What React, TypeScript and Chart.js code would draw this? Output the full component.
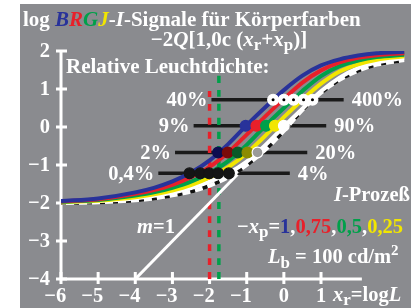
import React, { useEffect, useRef } from "react";
import { Chart, registerables } from "chart.js";
Chart.register(...registerables);

// ---- data ----
const xGrid = [-6, -5, -4, -3.5, -3, -2.5, -2, -1.5, -1, -0.5, 0, 0.5, 1, 1.5, 2, 2.5, 3.25];
const blueY = [-1.95, -1.88, -1.72, -1.6, -1.43, -1.2, -0.88, -0.45, 0.05, 0.52, 0.97, 1.35, 1.62, 1.78, 1.88, 1.94, 1.98];
const redY = [-1.96, -1.9, -1.76, -1.66, -1.52, -1.32, -1.05, -0.67, -0.2, 0.28, 0.74, 1.17, 1.49, 1.7, 1.82, 1.89, 1.94];
const greenY = [-1.97, -1.92, -1.8, -1.72, -1.6, -1.44, -1.21, -0.9, -0.47, 0.03, 0.5, 0.95, 1.34, 1.6, 1.75, 1.84, 1.9];
const yellowY = [-1.98, -1.94, -1.85, -1.77, -1.67, -1.53, -1.33, -1.06, -0.69, -0.23, 0.26, 0.72, 1.14, 1.46, 1.65, 1.77, 1.86];
const whiteY = [-1.99, -1.95, -1.88, -1.81, -1.73, -1.61, -1.44, -1.22, -0.91, -0.48, 0.01, 0.48, 0.94, 1.3, 1.55, 1.7, 1.82];
const dashedY = [-2.0, -1.98, -1.93, -1.88, -1.8, -1.7, -1.54, -1.32, -1.0, -0.6, -0.1, 0.45, 0.9, 1.24, 1.48, 1.64, 1.76];

const levelY = [-1.22, -0.67, 0.03, 0.72];
const levelStart = [-3.38, -2.93, -2.43, -1.95];
const levelEnd = [0.16, 0.63, 1.14, 1.61];
const leftLabels = ["0,4%", "2%", "9%", "40%"];
const rightLabels = ["4%", "20%", "90%", "400%"];
const circleX4 = [-2.54, -2.25, -2.01, -1.77, -1.48];
const circleX20 = [-1.77, -1.51, -1.24, -0.98, -0.71];
const circleX90 = [-1.03, -0.74, -0.48, -0.24, 0.0];
const circleX400 = [-0.29, 0.0, 0.26, 0.53, 0.77];

const slopeLineX = [-4, -1.25];
const slopeLineY = [-4, -1.25];
const redDashX = -2.0;
const redDashY = [-4, 0.95];
const greenDashX = -1.75;
const greenDashY = [-4, 1.35];

const xTicks = [-6, -5, -4, -3, -2, -1, 0, 1];
const yTicks = [-4, -3, -2, -1, 0, 1, 2];
const xAxisEnd = 2.1;

// ---- colours ----
const BG = "#8a8b8f";
const BLUE = "#28329a";
const RED = "#e8202a";
const GREEN = "#00a04a";
const YELLOW = "#f2e600";
const WHITE = "#ffffff";

const FONT = '"Liberation Serif", "DejaVu Serif", serif';
const FS = 20.5;
const FT = 21;
const SUB = 17;

type Seg = { t: string; c?: string; i?: boolean; dy?: number; s?: number };

function drawRich(ctx: CanvasRenderingContext2D, segs: Seg[], x: number, y: number, size: number, align: "left" | "center" | "right" = "left") {
  const fontOf = (s: Seg) => `${s.i ? "italic " : ""}bold ${s.s ?? size}px ${FONT}`;
  const widths = segs.map((s) => {
    ctx.font = fontOf(s);
    return ctx.measureText(s.t).width;
  });
  const total = widths.reduce((a, b) => a + b, 0);
  let cx = align === "left" ? x : align === "center" ? x - total / 2 : x - total;
  ctx.textAlign = "left";
  ctx.textBaseline = "alphabetic";
  segs.forEach((s, k) => {
    ctx.font = fontOf(s);
    ctx.fillStyle = s.c ?? WHITE;
    ctx.fillText(s.t, cx, y + (s.dy ?? 0));
    cx += widths[k];
  });
}

const minus = (v: number) => (v < 0 ? "\u2212" + Math.abs(v) : String(v));

const decorPlugin = {
  id: "decor",
  beforeDraw(chart: any) {
    const ctx = chart.ctx as CanvasRenderingContext2D;
    ctx.save();
    ctx.fillStyle = BG;
    ctx.fillRect(20, 4, chart.width - 20, chart.height - 4);
    ctx.restore();
  },
  beforeDatasetsDraw(chart: any) {
    const ctx = chart.ctx as CanvasRenderingContext2D;
    const xs = chart.scales.x;
    const ys = chart.scales.y;
    ctx.save();
    ctx.strokeStyle = WHITE;
    ctx.lineWidth = 3;
    const x0 = xs.getPixelForValue(-6);
    const yb = ys.getPixelForValue(-4);
    const yt = ys.getPixelForValue(2);
    ctx.beginPath();
    ctx.moveTo(x0, yb);
    ctx.lineTo(x0, yt);
    ctx.moveTo(x0, yb);
    ctx.lineTo(xs.getPixelForValue(xAxisEnd), yb);
    ctx.stroke();
    ctx.beginPath();
    yTicks.forEach((v) => {
      const py = ys.getPixelForValue(v);
      ctx.moveTo(x0 - 5, py);
      ctx.lineTo(x0 + 6, py);
    });
    xTicks.forEach((v) => {
      const px = xs.getPixelForValue(v);
      ctx.moveTo(px, yb - 7);
      ctx.lineTo(px, yb + 5);
    });
    ctx.stroke();
    ctx.restore();
  },
  afterDraw(chart: any) {
    const ctx = chart.ctx as CanvasRenderingContext2D;
    const xs = chart.scales.x;
    const ys = chart.scales.y;
    ctx.save();
    ctx.fillStyle = WHITE;
    ctx.font = `bold ${FS}px ${FONT}`;
    ctx.textBaseline = "middle";
    ctx.textAlign = "right";
    yTicks.forEach((v) => {
      ctx.fillText(minus(v), 50, ys.getPixelForValue(v) + 1);
    });
    xTicks.forEach((v) => {
      const s = minus(v);
      const lw = ctx.measureText(s.slice(-1)).width;
      ctx.fillText(s, xs.getPixelForValue(v) + lw / 2, 297);
    });
    levelY.forEach((ly, k) => {
      const py = ys.getPixelForValue(ly) + 1;
      ctx.textAlign = "right";
      ctx.fillText(leftLabels[k], xs.getPixelForValue(levelStart[k]) - 4, py);
      ctx.textAlign = "left";
      ctx.fillText(rightLabels[k], xs.getPixelForValue(levelEnd[k]) + 8, py);
    });
    drawRich(ctx, [
      { t: "log " },
      { t: "B", c: BLUE, i: true },
      { t: "R", c: RED, i: true },
      { t: "G", c: GREEN, i: true },
      { t: "J", c: YELLOW, i: true },
      { t: "-" },
      { t: "I", i: true },
      { t: "-Signale für Körperfarben" },
    ], 23, 26, FT);
    drawRich(ctx, [
      { t: "\u22122" },
      { t: "Q", i: true },
      { t: "[1,0c (" },
      { t: "x", i: true },
      { t: "r", dy: 4, s: SUB },
      { t: "+" },
      { t: "x", i: true },
      { t: "p", dy: 4, s: SUB },
      { t: ")]" },
    ], 229, 46, FT, "center");
    drawRich(ctx, [{ t: "Relative Leuchtdichte:" }], 66, 73, FT);
    drawRich(ctx, [{ t: "m", i: true }, { t: "=1" }], 137, 233, FS);
    drawRich(ctx, [{ t: "I", i: true }, { t: "-Prozeß" }], 334, 201, FS);
    drawRich(ctx, [
      { t: "\u2212" },
      { t: "x", i: true },
      { t: "p", dy: 4, s: SUB },
      { t: "=" },
      { t: "1", c: BLUE },
      { t: "," },
      { t: "0,75", c: RED },
      { t: "," },
      { t: "0,5", c: GREEN },
      { t: "," },
      { t: "0,25", c: YELLOW },
    ], 237, 233, FS);
    drawRich(ctx, [
      { t: "L", i: true },
      { t: "b", dy: 5, s: SUB },
      { t: " = 100 cd/m" },
      { t: "2", dy: -8, s: 15 },
    ], 268, 263, FS);
    drawRich(ctx, [
      { t: "x", i: true },
      { t: "r", dy: 4, s: SUB },
      { t: "=log" },
      { t: "L", i: true },
    ], 333, 301, FS);
    ctx.restore();
  },
};

function curve(ys: number[]) {
  return xGrid.map((x, k) => ({ x, y: ys[k] }));
}

export default function App() {
  const ref = useRef<HTMLCanvasElement | null>(null);
  useEffect(() => {
    if (!ref.current) return;
    const lineDs = (data: any[], color: string, width: number, extra: any = {}) => ({
      type: "line",
      data,
      borderColor: color,
      borderWidth: width,
      pointRadius: 0,
      fill: false,
      cubicInterpolationMode: "monotone",
      ...extra,
    });
    const levelLines = levelY.map((ly, k) =>
      lineDs([{ x: levelStart[k], y: ly }, { x: levelEnd[k], y: ly }], "#1a1a1a", 3.5)
    );
    const circles = (xs: number[], ly: number, fills: string[], borders: string[]) => ({
      type: "line",
      data: xs.map((x) => ({ x, y: ly })),
      showLine: false,
      pointRadius: 5.4,
      pointBorderWidth: 1.2,
      pointBackgroundColor: fills,
      pointBorderColor: borders,
    });
    // listed bottom-to-top; Chart.js draws lower "order" on top
    const stack: any[] = [
      ...levelLines,
      lineDs([{ x: redDashX, y: redDashY[0] }, { x: redDashX, y: redDashY[1] }], RED, 3.5, { borderDash: [7, 7] }),
      lineDs([{ x: greenDashX, y: greenDashY[0] }, { x: greenDashX, y: greenDashY[1] }], GREEN, 3.5, { borderDash: [7, 7] }),
      lineDs([{ x: slopeLineX[0], y: slopeLineY[0] }, { x: slopeLineX[1], y: slopeLineY[1] }], WHITE, 3),
      lineDs(curve(dashedY), WHITE, 4),
      lineDs(curve(dashedY), "#111111", 4, { borderDash: [5, 8] }),
      lineDs(curve(whiteY), WHITE, 4),
      lineDs(curve(yellowY), YELLOW, 4),
      lineDs(curve(greenY), GREEN, 4),
      lineDs(curve(redY), RED, 4),
      lineDs(curve(blueY), BLUE, 4),
      circles(circleX4, levelY[0], Array(5).fill("#151515"), Array(5).fill("#151515")),
      circles(circleX20, levelY[1], ["#0c0c50", "#7a0a0a", "#0a5a28", "#8c8c00", "#9a9a9a"], ["#0c0c50", "#7a0a0a", "#0a5a28", "#8c8c00", WHITE]),
      circles(circleX90, levelY[2], [BLUE, RED, GREEN, YELLOW, WHITE], [BLUE, RED, GREEN, YELLOW, WHITE]),
      circles(circleX400, levelY[3], Array(5).fill(WHITE), Array(5).fill(WHITE)),
      { type: "line", data: circleX400.map((x) => ({ x, y: levelY[3] })), showLine: false, pointRadius: 1.5, pointBorderWidth: 0, pointBackgroundColor: "#000" },
    ];
    stack.forEach((d, k) => (d.order = stack.length - k));
    const chart = new Chart(ref.current, {
      type: "line",
      data: { datasets: stack },
      options: {
        animation: false,
        responsive: false,
        devicePixelRatio: 1,
        layout: { padding: { left: 61, right: 0, top: 51, bottom: 29 } },
        plugins: { legend: { display: false }, tooltip: { enabled: false } },
        scales: {
          x: { type: "linear", min: -6, max: 3.245, display: false },
          y: { type: "linear", min: -4, max: 2, display: false },
        },
      } as any,
      plugins: [decorPlugin],
    });
    return () => chart.destroy();
  }, []);
  return (
    <div style={{ position: "fixed", left: 0, top: 0, width: 411, height: 308 }}>
      <canvas ref={ref} width={411} height={308} style={{ display: "block" }} />
    </div>
  );
}
